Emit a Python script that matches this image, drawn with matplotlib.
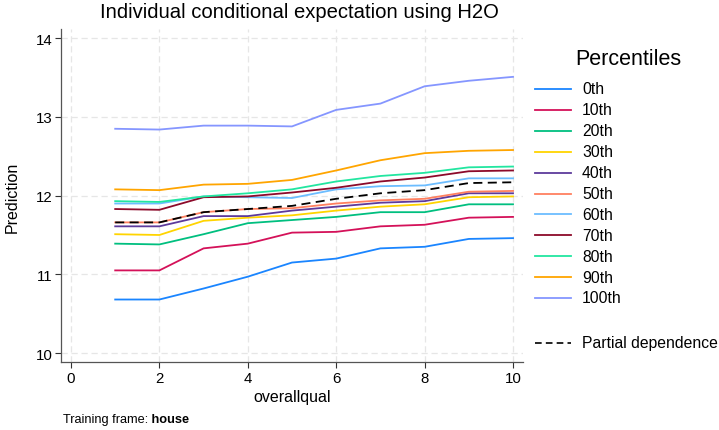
import matplotlib
matplotlib.use("Agg")
import matplotlib.pyplot as plt
from matplotlib.lines import Line2D

plt.rcParams['font.family'] = ['Liberation Sans', 'DejaVu Sans']

overallqual = [1, 2, 3, 4, 5, 6, 7, 8, 9, 10]
percentile_labels = ["0th", "10th", "20th", "30th", "40th", "50th",
                     "60th", "70th", "80th", "90th", "100th"]
p0 = [10.68, 10.68, 10.82, 10.97, 11.15, 11.20, 11.33, 11.35, 11.45, 11.46]
p10 = [11.05, 11.05, 11.33, 11.39, 11.53, 11.54, 11.61, 11.63, 11.72, 11.73]
p20 = [11.39, 11.38, 11.51, 11.65, 11.69, 11.73, 11.79, 11.79, 11.89, 11.89]
p30 = [11.51, 11.50, 11.68, 11.72, 11.75, 11.81, 11.86, 11.89, 11.98, 11.99]
p40 = [11.61, 11.61, 11.74, 11.74, 11.81, 11.86, 11.91, 11.93, 12.03, 12.03]
p50 = [11.66, 11.66, 11.79, 11.83, 11.84, 11.90, 11.94, 11.96, 12.05, 12.06]
p60 = [11.90, 11.90, 11.99, 11.98, 11.97, 12.08, 12.12, 12.13, 12.22, 12.22]
p70 = [11.83, 11.82, 11.98, 11.99, 12.04, 12.10, 12.18, 12.23, 12.31, 12.32]
p80 = [11.93, 11.92, 11.99, 12.03, 12.08, 12.18, 12.25, 12.29, 12.36, 12.37]
p90 = [12.08, 12.07, 12.14, 12.15, 12.20, 12.32, 12.45, 12.54, 12.57, 12.58]
p100 = [12.85, 12.84, 12.89, 12.89, 12.88, 13.09, 13.17, 13.39, 13.46, 13.51]
partial_dependence = [11.66, 11.66, 11.79, 11.83, 11.87, 11.96, 12.03, 12.07, 12.16, 12.17]

series = [p0, p10, p20, p30, p40, p50, p60, p70, p80, p90, p100]
colors = ["#1a85ff", "#d41159", "#00bf7f", "#ffd400", "#5d3a9b", "#ff8060",
          "#6cbdff", "#8c0a2a", "#22e6a0", "#ffa500", "#8596ff"]

fig = plt.figure(figsize=(7.19, 4.31), dpi=100)
ax = fig.add_axes([61/719, 1-363.3/431, (523-61)/719, (363.3-30)/431])

for vals, c in zip(series, colors):
    ax.plot(overallqual, vals, color=c, lw=1.3, solid_joinstyle='round')
ax.plot(overallqual, partial_dependence, color='black', lw=1.3, ls=(0, (5, 3)))

ax.set_xlim(-0.226, 10.226)
ax.set_ylim(9.882, 14.118)
ax.set_xticks([0, 2, 4, 6, 8, 10])
ax.set_yticks([10, 11, 12, 13, 14])
ax.tick_params(labelsize=10.8, length=4, width=0.8, color='#333333', pad=2)
ax.grid(True, color='#e6e6e6', ls=(0, (5, 3)), lw=0.9)
ax.set_axisbelow(True)
for s in ['top', 'right']:
    ax.spines[s].set_visible(False)
for s in ['left', 'bottom']:
    ax.spines[s].set_color('#555555')
    ax.spines[s].set_linewidth(0.9)
ax.set_xlabel("overallqual", fontsize=11.5, labelpad=3)
fig.text(12/719, 1-197/431, "Prediction", rotation=90, ha='center', va='center',
         fontsize=11.5)

fig.text(299/719, 1-12/431, "Individual conditional expectation using H2O",
         ha='center', va='center', fontsize=14.6)

# Legend
fig.text(628/719, 1-60/431, "Percentiles", ha='center', va='center', fontsize=15.5)
y0 = 90
step = (299 - 90) / 10
for i, (lab, c) in enumerate(zip(percentile_labels, colors)):
    y = 1 - (y0 + i * step) / 431
    fig.add_artist(Line2D([535/719, 571/719], [y, y], color=c, lw=1.3,
                          transform=fig.transFigure))
    fig.text(582/719, y, lab, ha='left', va='center', fontsize=11.3)
y = 1 - 344/431
fig.add_artist(Line2D([535/719, 571/719], [y, y], color='black', lw=1.2,
                      ls=(0, (4, 2.5)), transform=fig.transFigure))
fig.text(582/719, y, "Partial dependence", ha='left', va='center', fontsize=11.3)

t1 = fig.text(63/719, 1-420/431, "Training frame:", ha='left', va='center',
              fontsize=9.2)
ax.annotate(" house", xy=(1, 0.5), xycoords=t1, ha='left', va='center',
            fontsize=9.2, fontweight='bold', annotation_clip=False)

fig.savefig("out.png", dpi=100)
